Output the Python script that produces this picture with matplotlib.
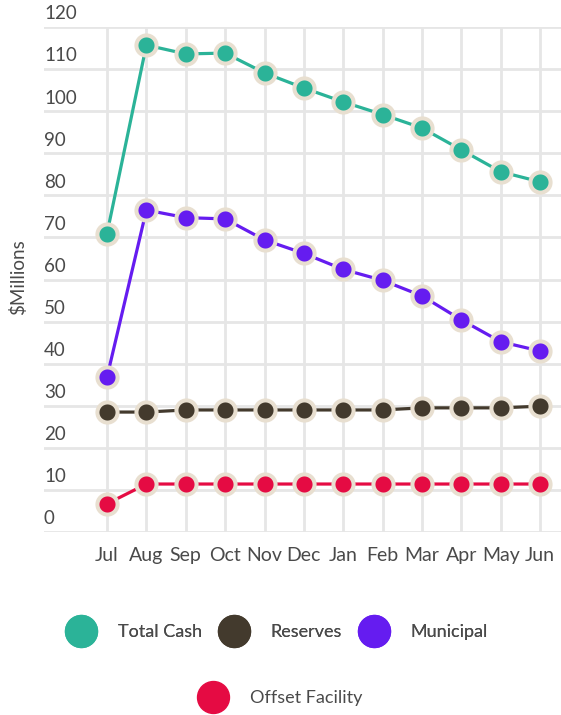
import matplotlib
matplotlib.use("Agg")

import matplotlib.pyplot as plt
from matplotlib.lines import Line2D
import matplotlib.transforms as mtransforms

months = ["Jul", "Aug", "Sep", "Oct", "Nov", "Dec", "Jan", "Feb", "Mar", "Apr", "May", "Jun"]
total_cash = [70.9, 115.7, 113.6, 113.8, 109.1, 105.5, 102.2, 99.2, 96.0, 90.8, 85.6, 83.2]
reserves = [28.5, 28.5, 29.0, 29.0, 29.0, 29.0, 29.0, 29.0, 29.5, 29.5, 29.5, 29.9]
municipal = [36.8, 76.5, 74.7, 74.4, 69.4, 66.2, 62.4, 59.8, 56.1, 50.4, 45.2, 43.0]
offset_facility = [6.7, 11.4, 11.4, 11.4, 11.4, 11.4, 11.4, 11.4, 11.4, 11.4, 11.4, 11.4]
y_ticks = [0, 10, 20, 30, 40, 50, 60, 70, 80, 90, 100, 110, 120]

series = [
    ("Total Cash", total_cash, "#2bb398"),
    ("Reserves", reserves, "#433a2d"),
    ("Municipal", municipal, "#651cf0"),
    ("Offset Facility", offset_facility, "#e50b43"),
]

plt.rcParams["font.family"] = ["Lato", "DejaVu Sans"]
text_color = "#4a4a4a"
grid_color = "#e6e6e6"
edge_color = "#e8dfd0"

fig = plt.figure(figsize=(5.61, 7.15), dpi=100)
ax = fig.add_axes([44 / 561, 1 - 532 / 715, 1 - 44 / 561, (532 - 27) / 715])

x = list(range(len(months)))
for name, values, color in series:
    ax.plot(x, values, color=color, lw=2.3, marker="o", markersize=14.5,
            markerfacecolor=color, markeredgecolor=edge_color, markeredgewidth=2.9,
            zorder=3, clip_on=False)

ax.set_ylim(0, 120)
ax.set_xlim(-1.6, 11.53)

for yv in y_ticks:
    ax.axhline(yv, color=grid_color, lw=2, zorder=0)
for xv in x:
    ax.axvline(xv, color=grid_color, lw=2, zorder=0)

for s in ax.spines.values():
    s.set_visible(False)

ax.set_yticks([])
ax.set_xticks(x)
ax.set_xticklabels(months, fontsize=14, color=text_color)
ax.tick_params(axis="x", length=0, pad=11)

offset = mtransforms.offset_copy(ax.transData, fig=fig, x=0, y=5.5, units="points")
blend = mtransforms.blended_transform_factory(ax.transAxes, offset)
for yv in y_ticks:
    ax.text(0, yv, str(yv), transform=blend, ha="left", va="baseline",
            fontsize=13.5, color=text_color)

fig.text(18 / 561, 1 - 277 / 715, "$Millions", rotation=90, ha="center", va="center",
         fontsize=13.5, color=text_color)

handles = [Line2D([], [], linestyle="none", marker="o", markersize=23,
                  markerfacecolor=c, markeredgecolor=c) for _, _, c in series]
labels = [n for n, _, _ in series]

leg1 = fig.legend(handles[:3], labels[:3], loc="center", ncol=3,
                  bbox_to_anchor=(0.495, 1 - 632 / 715), frameon=False,
                  fontsize=13, labelcolor=text_color, handletextpad=1.3,
                  columnspacing=1.0, handlelength=1.5)
leg2 = fig.legend(handles[3:], labels[3:], loc="center", ncol=1,
                  bbox_to_anchor=(0.5, 1 - 698 / 715), frameon=False,
                  fontsize=13, labelcolor=text_color, handletextpad=1.3,
                  handlelength=1.5)
fig.add_artist(leg1)

plt.savefig("out.png", dpi=100)
plt.close()
